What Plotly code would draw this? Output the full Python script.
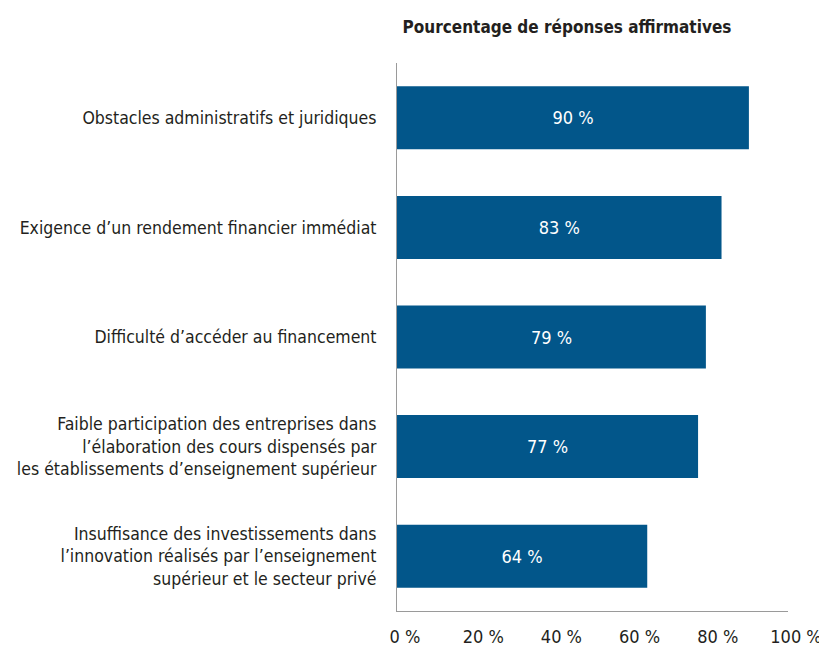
import plotly.graph_objects as go

categories = [
    "Obstacles administratifs et juridiques",
    "Exigence d’un rendement financier immédiat",
    "Difficulté d’accéder au financement",
    "Faible participation des entreprises dans<br>l’élaboration des cours dispensés par<br>les établissements d’enseignement supérieur",
    "Insuffisance des investissements dans<br>l’innovation réalisés par l’enseignement<br>supérieur et le secteur privé",
]
values = [90, 83, 79, 77, 64]
tick_vals = [0, 20, 40, 60, 80, 100]
tick_text = ["0 %", "20 %", "40 %", "60 %", "80 %", "100 %"]
title_text = "Pourcentage de réponses affirmatives"

FONT = "DejaVu Sans Condensed, Liberation Sans Narrow, sans-serif"
BAR = "#02568A"
TXT = "#231F20"

# the page body has an 8px default margin, so the figure is drawn 8px in
W, H = 819, 644

fig = go.Figure(go.Bar(
    x=values,
    y=categories,
    orientation="h",
    marker=dict(color=BAR, line=dict(width=0)),
    width=0.575,
    text=[f"{v} %" for v in values],
    textposition="inside",
    insidetextanchor="middle",
    textfont=dict(color="white", size=18, family=FONT),
    cliponaxis=False,
))

fig.update_layout(
    width=W, height=H,
    margin=dict(l=389, r=39, t=55, b=41),
    paper_bgcolor="white", plot_bgcolor="white",
    showlegend=False,
    font=dict(family=FONT, color=TXT, size=18),
    title=dict(
        text=f"<b>{title_text}</b>",
        x=(559 - 389) / (W - 389 - 39), xref="paper", xanchor="center",
        y=1 - 19 / H, yref="container", yanchor="middle",
        font=dict(family=FONT, size=17, color=TXT),
    ),
)

fig.update_xaxes(
    range=[0, 100],
    tickvals=tick_vals, ticktext=tick_text,
    showgrid=False, zeroline=False,
    showline=True, linecolor="#9A9A9A", linewidth=1,
    ticks="", ticklabelstandoff=9, ticklabelshift=8,
    tickfont=dict(size=18, family=FONT, color=TXT),
    automargin=False,
)
fig.update_yaxes(
    autorange="reversed",
    showgrid=False, zeroline=False,
    showline=True, linecolor="#9A9A9A", linewidth=1,
    ticks="", ticklabelstandoff=16,
    tickfont=dict(size=17.5, family=FONT, color=TXT),
    automargin=False,
)

fig.write_html("out.html")
